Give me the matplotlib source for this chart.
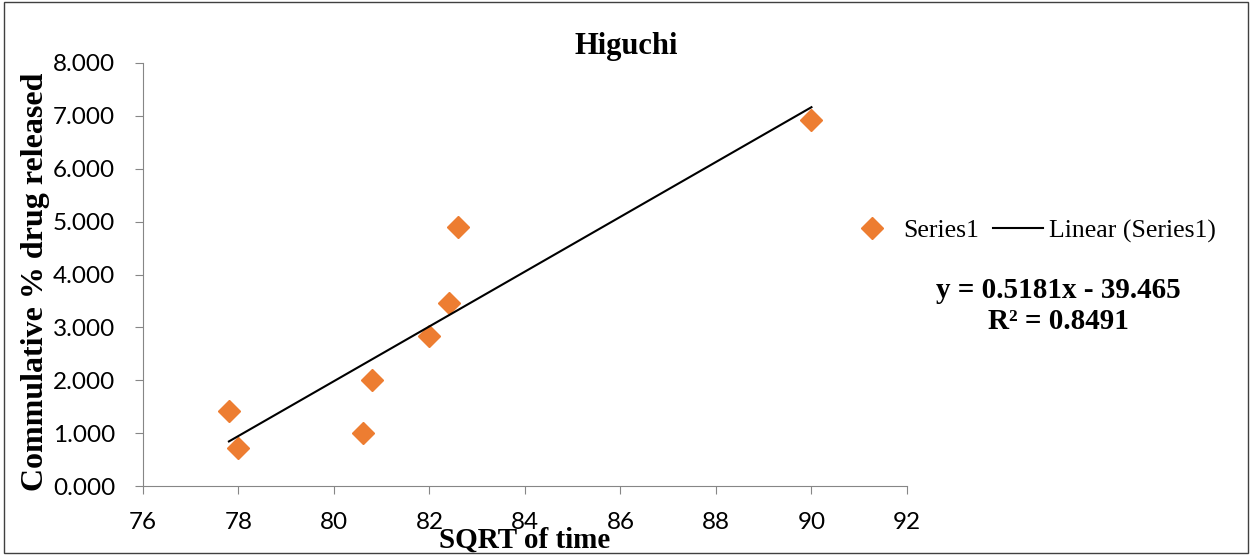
import matplotlib.pyplot as plt
import numpy as np

# data
sqrt_time = [77.8, 78.0, 80.6, 80.8, 82.0, 82.4, 82.6, 90.0]
cum_release = [1.42, 0.71, 1.01, 2.00, 2.83, 3.47, 4.90, 6.93]
slope, intercept = 0.5181, -39.465
r2 = 0.8491

fig = plt.figure(figsize=(12.52, 5.55), dpi=100)
ax = fig.add_axes([0.1142, 0.1243, 0.6102, 0.7622])

# outer border of chart area
fig.patches.append(plt.Rectangle((0.003, 0.003), 0.994, 0.994, transform=fig.transFigure,
                                 fill=False, edgecolor='#404040', linewidth=1.0))

ax.plot(sqrt_time, cum_release, linestyle='none', marker='D', markersize=11,
        color='#ED7D31', label='Series1')

# linear trendline
xs = np.array([min(sqrt_time), max(sqrt_time)])
ax.plot(xs, slope * xs + intercept, color='black', linewidth=1.5, label='Linear (Series1)')

ax.set_xlim(76, 92)
ax.set_ylim(0, 8)
ax.set_xticks(np.arange(76, 93, 2))
ax.set_yticks(np.arange(0, 9, 1))
ax.set_yticklabels([f'{v:.3f}' for v in np.arange(0, 9, 1)])

for s in ['top', 'right']:
    ax.spines[s].set_visible(False)
for s in ['left', 'bottom']:
    ax.spines[s].set_color('#868686')
ax.tick_params(direction='out', length=6, color='#868686', labelsize=17.5)
ax.tick_params(axis='x', pad=12.5)
ax.tick_params(axis='y', pad=14)
for lab in ax.get_xticklabels() + ax.get_yticklabels():
    lab.set_fontfamily('Lato')

ax.set_title('Higuchi', fontfamily='Liberation Serif', fontweight='bold', fontsize=22,
             x=0.633, y=1.04, va='center', pad=0)
ax.set_xlabel('SQRT of time', fontfamily='Liberation Serif', fontweight='bold', fontsize=21,
              va='center')
ax.xaxis.set_label_coords(0.5, -0.128)
ax.set_ylabel('Commulative % drug released', fontfamily='Liberation Serif', fontweight='bold',
              fontsize=23, va='center')
ax.yaxis.set_label_coords(-0.141, 0.482)

leg = ax.legend(loc='center left', bbox_to_anchor=(0.6765, 0.584), bbox_transform=fig.transFigure,
                ncol=2, frameon=False, borderpad=0, borderaxespad=0,
                prop={'family': 'Liberation Serif', 'size': 18.5}, handlelength=1.95,
                handletextpad=0.23, columnspacing=0.55)

fig.text(1058 / 1252, 1 - 306 / 555, f'y = {slope}x - {abs(intercept)}\nR² = {r2}', ha='center',
         va='center', fontfamily='Liberation Serif', fontweight='bold', fontsize=21, linespacing=1.15)

fig.savefig('out.png', dpi=100)
